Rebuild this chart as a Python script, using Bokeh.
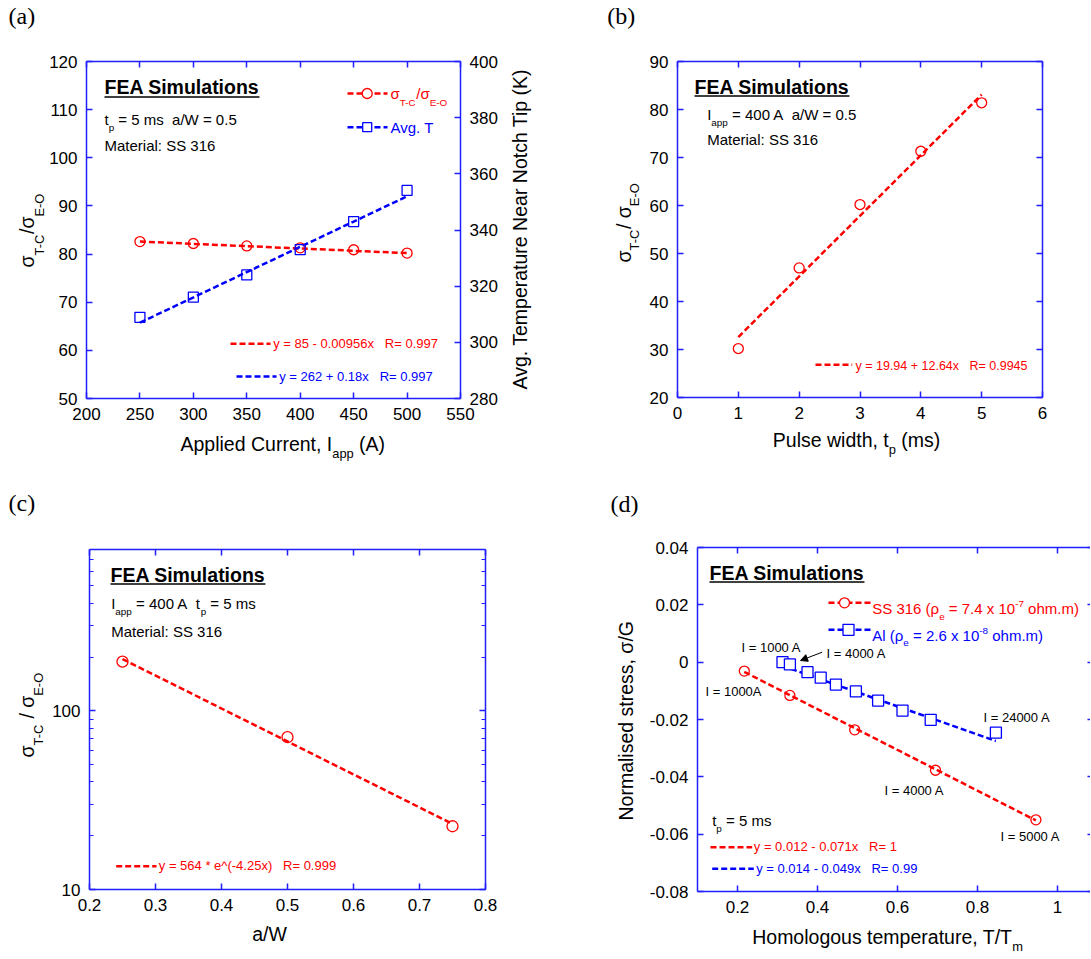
import math
from bokeh.plotting import figure
from bokeh.models import (Range1d, LinearAxis, LogAxis, LogScale, FixedTicker, Label, Arrow,
                          NormalHead, CustomJSTickFormatter)
from bokeh.layouts import column, row
from bokeh.embed import file_html
from bokeh.resources import INLINE

# ---------------- data ----------------
# (a) effect of applied current
a_current = [250, 300, 350, 400, 450, 500]
a_ratio = [82.6, 82.2, 81.7, 81.3, 80.9, 80.2]
a_avg_temp = [308.9, 316.1, 324.0, 333.0, 343.0, 354.1]
a_fit_current = [250, 500]
a_fit_ratio = [82.6, 80.2]
a_fit_temp = [307.0, 352.0]
a_xticks = [200, 250, 300, 350, 400, 450, 500, 550]
a_yticks = [50, 60, 70, 80, 90, 100, 110, 120]
a_y2ticks = [280, 300, 320, 340, 360, 380, 400]

# (b) effect of pulse width
b_pulse = [1, 2, 3, 4, 5]
b_ratio = [30.2, 47.0, 60.2, 71.3, 81.4]
b_fit_pulse = [1, 5]
b_fit_ratio = [32.6, 83.1]
b_xticks = [0, 1, 2, 3, 4, 5, 6]
b_yticks = [20, 30, 40, 50, 60, 70, 80, 90]

# (c) effect of crack length
c_aw = [0.25, 0.5, 0.75]
c_ratio = [188.5, 71.2, 22.6]
c_fit_aw = [0.25, 0.75]
c_fit_ratio = [194.9, 23.3]
c_xticks = [0.2, 0.3, 0.4, 0.5, 0.6, 0.7, 0.8]
c_yticks = [10, 100]
c_yminor = [20, 30, 40, 50, 60, 70, 80, 90, 200, 300, 400, 500, 600, 700, 800]

# (d) normalised stress vs homologous temperature
d_ss_T = [0.217, 0.331, 0.493, 0.695, 0.946]
d_ss_stress = [-0.0031, -0.0116, -0.0236, -0.0377, -0.0550]
d_al_T = [0.3125, 0.331, 0.375, 0.408, 0.446, 0.496, 0.5515, 0.6125, 0.683, 0.846]
d_al_stress = [0.0, -0.0008, -0.0035, -0.0054, -0.0078, -0.0102, -0.0134, -0.0169, -0.0201, -0.0246]
d_fit_ss_T = [0.217, 0.946]
d_fit_ss_stress = [-0.0034, -0.0552]
d_fit_al_T = [0.3125, 0.846]
d_fit_al_stress = [-0.0013, -0.0275]
d_xticks = [0.2, 0.4, 0.6, 0.8, 1.0]
d_yticks = [-0.08, -0.06, -0.04, -0.02, 0, 0.02, 0.04]

# ---------------- styling helpers ----------------
FONT = "Liberation Sans"
SERIF = "Liberation Serif"
RED = "#ff0000"
BLUE = "#0000ff"
FRAME = "#1f1fff"
BLACK = "#000000"
BASE_FIX = 0.35   # baseline correction (fraction of font size)

_REG = {' ': 278, '\u00a0': 278, '(': 333, ')': 333, '*': 389, '+': 584, ',': 278, '-': 333,
        '.': 278, '/': 278, ':': 278, '=': 584, '^': 469, '\u03c3': 617, '\u03c1': 573}
for _c in "0123456789":
    _REG[_c] = 556
_REG.update(dict(zip("ABCDEFGHIJKLMNOPQRSTUVWXYZ",
                     [667, 667, 722, 722, 667, 611, 778, 722, 278, 500, 667, 556, 833, 722, 778,
                      667, 778, 722, 667, 611, 722, 667, 944, 667, 667, 611])))
_REG.update(dict(zip("abcdefghijklmnopqrstuvwxyz",
                     [556, 556, 500, 556, 556, 278, 556, 556, 222, 222, 500, 222, 833, 556, 556,
                      556, 556, 333, 500, 278, 556, 500, 722, 500, 500, 500])))
_BOLD = {' ': 278, '\u00a0': 278, 'F': 611, 'E': 667, 'A': 722, 'S': 667, 'i': 278, 'm': 889,
         'u': 611, 'l': 278, 'a': 556, 't': 333, 'o': 611, 'n': 611, 's': 556}


def text_w(s, size, bold=False):
    tbl = _BOLD if bold else _REG
    return sum(tbl.get(ch, 556) for ch in s) * size / 1000.0


def nb(s):
    s = s.replace("  ", "\u00a0\u00a0")
    if s.startswith(" "):
        s = "\u00a0" + s[1:]
    if s.endswith(" "):
        s = s[:-1] + "\u00a0"
    return s


class Panel:
    """Maps page pixel positions of the reference onto a panel's data space."""

    def __init__(self, box, xr, yr, log=False):
        self.L, self.T, self.R, self.B = box
        self.xr, self.yr, self.log = xr, yr, log

    def x(self, px):
        x0, x1 = self.xr
        return x0 + (px - self.L) / (self.R - self.L) * (x1 - x0)

    def y(self, py):
        y0, y1 = self.yr
        f = (self.B - py) / (self.B - self.T)
        if self.log:
            return 10 ** (math.log10(y0) + f * (math.log10(y1) - math.log10(y0)))
        return y0 + f * (y1 - y0)


NUMFMT = "return String(Number(tick.toFixed(6)));"


def add_axis(p, side, ticks, loc, bounds, minor=None, labels=True, log=False, y_range_name=None,
             line=True):
    kw = {"y_range_name": y_range_name} if y_range_name else {}
    ax = (LogAxis if log else LinearAxis)(fixed_location=loc, bounds=bounds, **kw)
    ax.ticker = FixedTicker(ticks=ticks, minor_ticks=minor or [])
    ax.axis_line_color = FRAME if line else None
    ax.axis_line_width = 1.5
    ax.major_tick_in = 6
    ax.major_tick_out = 0
    ax.minor_tick_in = 4
    ax.minor_tick_out = 0
    ax.major_tick_line_color = FRAME
    ax.major_tick_line_width = 1.5
    ax.minor_tick_line_color = FRAME if minor else None
    ax.minor_tick_line_width = 1.2
    ax.major_label_text_font = FONT
    ax.major_label_text_color = BLACK
    if labels:
        ax.formatter = CustomJSTickFormatter(code=NUMFMT)
        ax.major_label_text_font_size = "17px"
        ax.major_label_standoff = 9
    else:
        ax.formatter = CustomJSTickFormatter(code="return '';")
        ax.major_label_text_font_size = "1px"
        ax.major_label_standoff = 0
    p.add_layout(ax, side)
    return ax


def make_fig(pan, page_left, page_top, width, height):
    p = figure(width=width, height=height,
               x_range=Range1d(pan.x(page_left), pan.x(page_left + width)),
               y_range=Range1d(pan.y(page_top + height), pan.y(page_top)),
               x_axis_type=None, y_axis_type=None,
               output_backend="svg", toolbar_location=None,
               min_border=0, min_border_left=0, min_border_right=0,
               min_border_top=0, min_border_bottom=0,
               background_fill_color="white", border_fill_color="white",
               outline_line_color=None)
    if pan.log:
        p.y_scale = LogScale()
    p.title.visible = False
    p.grid.visible = False
    return p


def box_axes(p, pan, xticks, yticks, yminor=None, right=True):
    x0, x1 = pan.xr
    y0, y1 = pan.yr
    add_axis(p, "below", xticks, y0, (x0, x1))
    add_axis(p, "above", xticks, y1, (x0, x1), labels=False)
    add_axis(p, "left", yticks, x0, (y0, y1), minor=yminor, log=pan.log)
    if right:
        add_axis(p, "right", yticks, x1, (y0, y1), minor=yminor, log=pan.log, labels=False)


def put(p, pan, px, py, parts, size, color=BLACK, angle=0.0, bold=False, font=FONT,
        sub_scale=0.66, shift=0.42):
    x, y = pan.x(px), pan.y(py)
    adv = 0.0
    for txt, kind in parts:
        txt = nb(txt)
        fs = size if kind == "n" else size * sub_scale
        sh = 0.0 if kind == "n" else (-shift * size if kind == "sub" else shift * size)
        sh += BASE_FIX * fs
        if angle == 0:
            xo, yo = adv, sh
        else:
            xo, yo = -sh, adv
        p.add_layout(Label(x=x, y=y, x_offset=xo, y_offset=yo, text=txt, angle=angle,
                           text_font=font, text_font_size=f"{fs:.1f}px", text_color=color,
                           text_font_style="bold" if bold else "normal",
                           text_align="left", text_baseline="alphabetic"))
        adv += text_w(txt, fs, bold)


def heading(p, pan, px, py, uy):
    put(p, pan, px, py, [("FEA Simulations", "n")], 19.5, bold=True)
    w = text_w("FEA Simulations", 19.5, bold=True)
    p.line([pan.x(px), pan.x(px + w)], [pan.y(uy), pan.y(uy)], line_color=BLACK, line_width=1.6)


def key_line(p, pan, px0, px1, py, color):
    p.line([pan.x(px0), pan.x(px1)], [pan.y(py), pan.y(py)], line_color=color,
           line_width=2.5, line_dash="6 3")


def key_marker(p, pan, px, py, marker, color, size):
    p.scatter([pan.x(px)], [pan.y(py)], marker=marker, size=size, line_color=color,
              fill_color="white", line_width=1.3)


AX = 19.5   # axis title size
ANN = 15    # annotation size
FIT = 13    # fit-equation size
PLAB = 24   # panel letter size
ROT = math.pi / 2

W_L, W_R = 540, 550
H_T, H_B = 475, 483

# ---------------- panel (a) ----------------
PA = Panel((86, 61, 460, 398), (200, 550), (50, 120))
PA_T = Panel((86, 61, 460, 398), (200, 550), (280, 400))
fa = make_fig(PA, 0, 0, W_L, H_T)
fa.extra_y_ranges = {"T": Range1d(PA_T.y(H_T), PA_T.y(0))}
box_axes(fa, PA, a_xticks, a_yticks, right=False)
add_axis(fa, "right", a_y2ticks, 550, (280, 400), y_range_name="T")

fa.line(a_fit_current, a_fit_ratio, line_color=RED, line_width=2.5, line_dash="6 3")
fa.line(a_fit_current, a_fit_temp, line_color=BLUE, line_width=2.5, line_dash="6 3", y_range_name="T")
fa.scatter(a_current, a_ratio, marker="circle", size=10, line_color=RED, fill_color=None, line_width=1.3)
fa.scatter(a_current, a_avg_temp, marker="square", size=10, line_color=BLUE, fill_color=None,
           line_width=1.3, y_range_name="T")

heading(fa, PA, 104, 93, 96.5)
put(fa, PA, 104, 124, [("t", "n"), ("p", "sub"), (" = 5 ms  a/W = 0.5", "n")], ANN)
put(fa, PA, 104, 150, [("Material: SS 316", "n")], ANN)
key_line(fa, PA, 347, 387, 93, RED)
key_marker(fa, PA, 366.7, 93, "circle", RED, 10)
put(fa, PA, 390, 98, [("\u03c3", "n"), ("T-C", "sub"), ("/\u03c3", "n"), ("E-O", "sub")], ANN, RED, shift=0.5)
key_line(fa, PA, 347, 387, 126.7, BLUE)
key_marker(fa, PA, 366.7, 126.7, "square", BLUE, 9)
put(fa, PA, 390, 132, [("Avg. T", "n")], ANN, BLUE)
key_line(fa, PA, 230, 270, 343.3, RED)
put(fa, PA, 272.7, 348, [("y = 85 - 0.00956x   R= 0.997", "n")], FIT, RED)
key_line(fa, PA, 236, 276, 376, BLUE)
put(fa, PA, 278.7, 381, [("y = 262 + 0.18x   R= 0.997", "n")], FIT, BLUE)
put(fa, PA, 33.3, 267, [("\u03c3", "n"), ("T-C", "sub"), ("/\u03c3", "n"), ("E-O", "sub")], AX,
    angle=ROT, shift=0.5)
put(fa, PA, 526, 389, [("Avg. Temperature Near Notch Tip (K)", "n")], AX, angle=ROT)
put(fa, PA, 180, 450.7, [("Applied Current, I", "n"), ("app", "sub"), (" (A)", "n")], AX, shift=0.36)
put(fa, PA, 8, 24, [("(a)", "n")], PLAB, font=SERIF)

# ---------------- panel (b) ----------------
PB = Panel((677, 61, 1042, 397), (0, 6), (20, 90))
fb = make_fig(PB, W_L, 0, W_R, H_T)
box_axes(fb, PB, b_xticks, b_yticks)

fb.line(b_fit_pulse, b_fit_ratio, line_color=RED, line_width=2.5, line_dash="6 3")
fb.scatter(b_pulse, b_ratio, marker="circle", size=10, line_color=RED, fill_color=None, line_width=1.3)

heading(fb, PB, 694, 93, 95.5)
put(fb, PB, 706.7, 119, [("I", "n"), ("app", "sub"), (" = 400 A  a/W = 0.5", "n")], ANN)
put(fb, PB, 706.7, 144, [("Material: SS 316", "n")], ANN)
key_line(fb, PB, 815, 851.7, 364.3, RED)
put(fb, PB, 855, 370, [("y = 19.94 + 12.64x   R= 0.9945", "n")], 12.5, RED)
put(fb, PB, 630, 262, [("\u03c3", "n"), ("T-C", "sub"), ("/ \u03c3", "n"), ("E-O", "sub")], AX,
    angle=ROT, shift=0.45)
put(fb, PB, 772.3, 446, [("Pulse width, t", "n"), ("p", "sub"), (" (ms)", "n")], AX, shift=0.36)
put(fb, PB, 606.7, 24, [("(b)", "n")], PLAB, font=SERIF)

# ---------------- panel (c) ----------------
PC = Panel((89, 549, 485, 889), (0.2, 0.8), (10, 800), log=True)
fc = make_fig(PC, 0, H_T, W_L, H_B)
box_axes(fc, PC, c_xticks, c_yticks, yminor=c_yminor)

fc.line(c_fit_aw, c_fit_ratio, line_color=RED, line_width=2.5, line_dash="6 3")
fc.scatter(c_aw, c_ratio, marker="circle", size=11, line_color=RED, fill_color=None, line_width=1.3)

heading(fc, PC, 110, 581, 583.5)
put(fc, PC, 110.7, 608.3, [("I", "n"), ("app", "sub"), (" = 400 A  t", "n"), ("p", "sub"), (" = 5 ms", "n")], ANN)
put(fc, PC, 110.7, 636.7, [("Material: SS 316", "n")], ANN)
key_line(fc, PC, 115.7, 156, 865.7, RED)
put(fc, PC, 158.3, 870, [("y = 564 * e^(-4.25x)   R= 0.999", "n")], FIT, RED)
put(fc, PC, 33.3, 757, [("\u03c3", "n"), ("T-C", "sub"), (" / \u03c3", "n"), ("E-O", "sub")], AX,
    angle=ROT, shift=0.45)
put(fc, PC, 251.7, 940, [("a/W", "n")], AX)
put(fc, PC, 8, 511, [("(c)", "n")], PLAB, font=SERIF)

# ---------------- panel (d) ----------------
PD = Panel((697, 547, 1093, 891), (0.1, 1.09), (-0.08, 0.04))
fd = make_fig(PD, W_L, H_T, W_R, H_B)
box_axes(fd, PD, d_xticks, d_yticks)

fd.line(d_fit_ss_T, d_fit_ss_stress, line_color=RED, line_width=2.5, line_dash="6 3")
fd.line(d_fit_al_T, d_fit_al_stress, line_color=BLUE, line_width=2.5, line_dash="6 3")
fd.scatter(d_ss_T, d_ss_stress, marker="circle", size=10, line_color=RED, fill_color=None, line_width=1.3)
fd.scatter(d_al_T, d_al_stress, marker="square", size=11, line_color=BLUE, fill_color="white", line_width=1.3)

heading(fd, PD, 709, 579, 581.5)
key_line(fd, PD, 828, 870, 602.3, RED)
key_marker(fd, PD, 844, 602.3, "circle", RED, 10)
put(fd, PD, 871.7, 613.3, [("SS 316 (\u03c1", "n"), ("e", "sub"), (" = 7.4 x 10", "n"), ("-7", "sup"),
                            (" ohm.m)", "n")], ANN, RED)
key_line(fd, PD, 828, 870, 629.3, BLUE)
key_marker(fd, PD, 848, 629.3, "square", BLUE, 11)
put(fd, PD, 871.7, 640, [("Al (\u03c1", "n"), ("e", "sub"), (" = 2.6 x 10", "n"), ("-8", "sup"),
                          (" ohm.m)", "n")], ANN, BLUE)
for (tx, ty, t) in [(741, 651.7, "I = 1000 A"), (826, 657.5, "I = 4000 A"), (705, 696, "I = 1000A"),
                    (983, 721.7, "I = 24000 A"), (884, 794.3, "I = 4000 A"), (1000, 840.5, "I = 5000 A")]:
    put(fd, PD, tx, ty, [(t, "n")], FIT)
fd.add_layout(Arrow(end=NormalHead(size=7, fill_color=BLACK, line_color=BLACK),
                    x_start=PD.x(821.7), y_start=PD.y(651.7), x_end=PD.x(800), y_end=PD.y(660),
                    line_color=BLACK, line_width=1))
put(fd, PD, 711.7, 825, [("t", "n"), ("p", "sub"), (" = 5 ms", "n")], ANN)
key_line(fd, PD, 710, 751.7, 846.7, RED)
put(fd, PD, 753.3, 851, [("y = 0.012 - 0.071x   R= 1", "n")], FIT, RED)
key_line(fd, PD, 711.7, 753.3, 868.3, BLUE)
put(fd, PD, 755.7, 872.7, [("y = 0.014 - 0.049x   R= 0.99", "n")], FIT, BLUE)
put(fd, PD, 632, 820, [("Normalised stress, \u03c3/G", "n")], AX, angle=ROT)
put(fd, PD, 751.7, 943.3, [("Homologous temperature, T/T", "n"), ("m", "sub")], AX, shift=0.36)
put(fd, PD, 610, 511.7, [("(d)", "n")], PLAB, font=SERIF)

layout = column(row(fa, fb), row(fc, fd))
open("out.html", "w").write(file_html(layout, INLINE))
